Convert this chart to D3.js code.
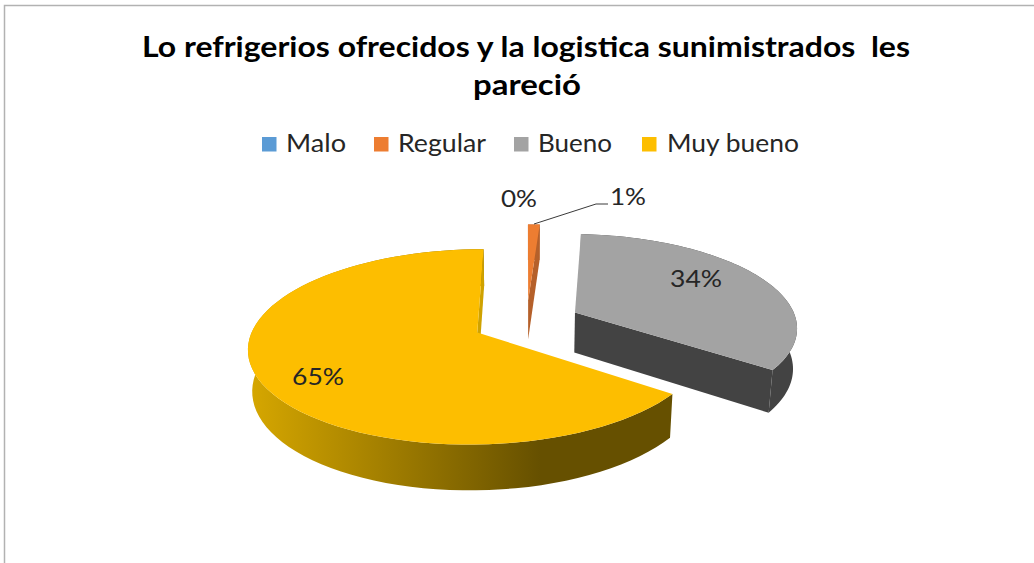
<!DOCTYPE html>
<html>
<head>
<meta charset="utf-8">
<script src="https://cdn.jsdelivr.net/npm/d3@7"></script>
<style>
  html, body { margin: 0; padding: 0; background: #fff; }
  svg { display: block; }
  text { font-family: Lato, "Open Sans", sans-serif; fill: #262626; }
</style>
</head>
<body>
<div id="chart"></div>
<script>
const categories = ["Malo", "Regular", "Bueno", "Muy bueno"];
const values = [0, 1, 34, 65];
const labels = ["0%", "1%", "34%", "65%"];
const titleLines = ["Lo refrigerios ofrecidos y la logistica sunimistrados  les", "pareció"];

const width = 1034, height = 563;
const topColors = ["#5b9bd5", "#ed7d31", "#a3a3a3", "#fdbe00"];
const sideColors = ["#3f75a6", "#b5602a", "#434343", "#665000"];

// the pie plane: perspective parameters
const cx = 526.5, cy = 322, R = 222, tilt = 92.5, depth = 41, k = 0.145, m = 0.015, explode = 0.245;

const svg = d3.select("#chart").append("svg")
    .attr("width", width)
    .attr("height", height);

// frame, only top and left are visible in the crop
svg.append("path")
    .attr("d", "M4.5," + height + "V5.5H" + width)
    .attr("fill", "none")
    .attr("stroke", "#b2b2b2")
    .attr("stroke-width", 1.5);

const grad = svg.append("defs").append("linearGradient")
    .attr("id", "yellowSide")
    .attr("gradientUnits", "userSpaceOnUse")
    .attr("x1", 250).attr("x2", 540)
    .attr("y1", 0).attr("y2", 0);
grad.append("stop").attr("offset", 0).attr("stop-color", "#d6a700");
grad.append("stop").attr("offset", 1).attr("stop-color", "#665000");

function project(x, y, z) {
    const w = 1 / (1 - k * y + m * z);
    return [cx + R * x * w, cy + (tilt * y + depth * z) * w];
}

const pie = d3.pie().sort(null).value(d => d)
    .startAngle(0)
    .endAngle(2 * Math.PI);
const arcs = pie(values);

const line = d3.line().curve(d3.curveLinear);

function slicePoints(a, z) {
    const mid = (a.startAngle + a.endAngle) / 2,
        ox = Math.sin(mid) * explode,
        oy = -Math.cos(mid) * explode;
    const pts = d3.range(0, 81).map(i => {
        const t = a.startAngle + (a.endAngle - a.startAngle) * i / 80;
        return project(ox + Math.sin(t), oy - Math.cos(t), z);
    });
    return { apex: project(ox, oy, z), rim: pts };
}

const slices = svg.append("g");
// far slices first
[1, 2, 3].forEach(i => {
    const a = arcs[i];
    const top = slicePoints(a, 0), bottom = slicePoints(a, 1);
    const side = i === 3 ? "url(#yellowSide)" : sideColors[i];
    const g = slices.append("g").attr("class", "slice");
    // outer wall
    g.append("path")
        .attr("d", line(top.rim.concat(bottom.rim.slice().reverse())) + "Z")
        .attr("fill", side);
    // cut wall at the end of the slice, the one at its start faces away
    g.append("path")
        .attr("d", line([top.apex, top.rim[80], bottom.rim[80], bottom.apex]) + "Z")
        .attr("fill", i === 3 ? "#cfa200" : sideColors[i]);
    // top face
    g.append("path")
        .attr("d", line([top.apex].concat(top.rim)) + "Z")
        .attr("fill", topColors[i]);
});

function fitted(sel, x0, x1) {
    return sel.attr("x", x0)
        .attr("textLength", x1 - x0)
        .attr("lengthAdjust", "spacingAndGlyphs");
}

// title
const titleBox = [[142, 910, 57], [473, 581, 95]];
titleLines.forEach((t, i) => {
    fitted(svg.append("text").text(t), titleBox[i][0], titleBox[i][1])
        .attr("y", titleBox[i][2])
        .attr("font-size", 29)
        .attr("font-weight", 700)
        .style("fill", "#000")
        .style("white-space", "pre");
});

// legend
const legendBox = [[262, 286, 346], [374, 398, 486], [514, 538, 612], [642, 667, 799]];
categories.forEach((c, i) => {
    svg.append("rect")
        .attr("x", legendBox[i][0]).attr("y", 137)
        .attr("width", 14.5).attr("height", 14.5)
        .attr("fill", topColors[i]);
    fitted(svg.append("text").text(c), legendBox[i][1], legendBox[i][2])
        .attr("y", 152)
        .attr("font-size", 25);
});

// leader for the 1% label
svg.append("path")
    .attr("d", line([[534, 224], [596, 204], [608, 204]]))
    .attr("fill", "none")
    .attr("stroke", "#3a3a3a")
    .attr("stroke-width", 1);

const labelBox = [[501, 537, 207], [610, 646, 205], [670, 722, 287], [292, 344, 385]];
labels.forEach((l, i) => {
    fitted(svg.append("text").text(l), labelBox[i][0], labelBox[i][1])
        .attr("y", labelBox[i][2])
        .attr("font-size", 24);
});
</script>
</body>
</html>
